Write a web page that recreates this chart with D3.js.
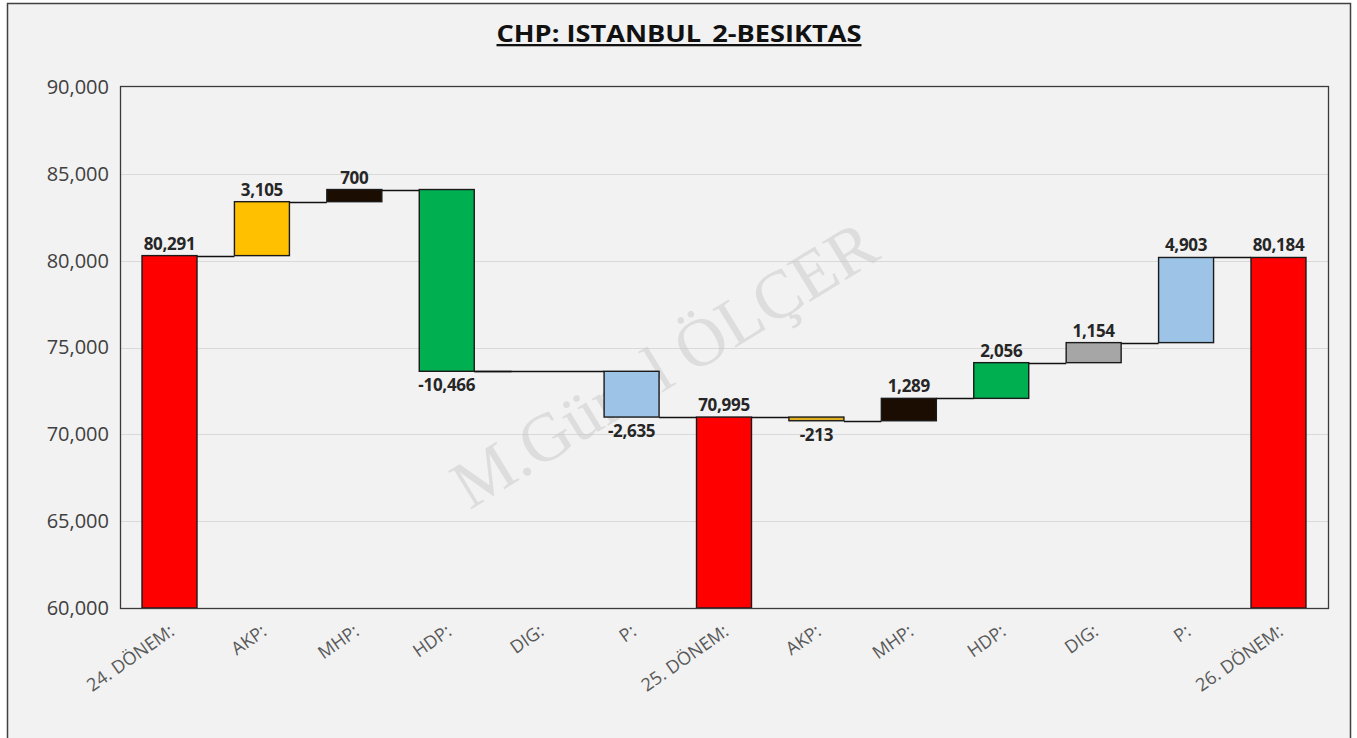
<!DOCTYPE html>
<html>
<head>
<meta charset="utf-8">
<script src="https://cdn.jsdelivr.net/npm/d3@7"></script>
<style>
  body { margin: 0; background: #fff; }
  svg { display: block; }
</style>
</head>
<body>
<div id="chart"></div>
<script>
const categories = ["24. DÖNEM:", "AKP:", "MHP:", "HDP:", "DIG:", "P:", "25. DÖNEM:", "AKP:", "MHP:", "HDP:", "DIG:", "P:", "26. DÖNEM:"];
// kind: total bars start at 0, change bars float
const kinds = ["total", "change", "change", "change", "change", "change", "total", "change", "change", "change", "change", "change", "total"];
const values = [80291, 3105, 700, -10466, 0, -2635, 70995, -213, 1289, 2056, 1154, 4903, 80184];
const colors = ["#ff0000", "#ffc000", "#1c0d02", "#00b050", "#a6a6a6", "#9dc3e6", "#ff0000", "#e0b020", "#1c0d02", "#00b050", "#a6a6a6", "#9dc3e6", "#ff0000"];
const yTicks = [60000, 65000, 70000, 75000, 80000, 85000, 90000];

const width = 1357, height = 738;
const margin = { top: 87, right: 29, bottom: 130, left: 120 };

const fmt = d3.formatLocale({ decimal: ".", thousands: ",", grouping: [3], currency: ["", ""], minus: "-" }).format(",");

// running totals for the floating bars
let running = 0;
const bars = values.map((v, i) => {
    let start, end;
    if (kinds[i] === "total") { start = 0; end = v; running = v; }
    else { start = running; end = running + v; running = end; }
    return { i, name: categories[i], value: v, start, end, kind: kinds[i], color: colors[i] };
});

const svg = d3.select("#chart").append("svg")
    .attr("width", width)
    .attr("height", height);

// frame
svg.append("rect")
    .attr("x", 7.5).attr("y", 3.5)
    .attr("width", 1343).attr("height", 740)
    .attr("fill", "#f2f2f2")
    .attr("stroke", "#404040")
    .attr("stroke-width", 1.5);

const x = d3.scaleBand()
    .domain(d3.range(categories.length))
    .range([123.3, 1324.7])
    .paddingInner(0.405)
    .paddingOuter(0.2025);

const y = d3.scaleLinear()
    .domain([60000, 90000])
    .range([height - margin.bottom, margin.top]);

const plotBottom = y(60000);

// gridlines
svg.append("g")
    .selectAll("line")
    .data(yTicks.slice(1, -1))
    .join("line")
    .attr("x1", margin.left).attr("x2", width - margin.right)
    .attr("y1", d => Math.round(y(d)) + 0.5).attr("y2", d => Math.round(y(d)) + 0.5)
    .attr("stroke", "#d9d9d9");

// watermark
svg.append("text")
    .attr("transform", "translate(676,384) rotate(-31.5)")
    .attr("text-anchor", "middle")
    .attr("font-family", "Liberation Serif, DejaVu Serif, serif")
    .attr("font-size", 68)
    .attr("fill", "#c8c8c8")
    .attr("fill-opacity", 0.5)
    .text("M.Günal ÖLÇER");

// y axis
const yAxis = g => g
    .attr("transform", `translate(${margin.left - 11},0)`)
    .call(d3.axisLeft(y).tickValues(yTicks).tickSize(0).tickPadding(0).tickFormat(fmt))
    .call(g => g.select(".domain").remove())
    .call(g => g.selectAll("text")
        .attr("font-family", "Open Sans, Noto Sans, sans-serif")
        .attr("font-size", 20)
        .attr("fill", "#404040"));
svg.append("g").call(yAxis);

// connectors (run through the band of a zero change too)
svg.append("g")
    .selectAll("line")
    .data(bars.slice(0, -1))
    .join("line")
    .attr("x1", d => d.value === 0 ? x(d.i - 1) + x.bandwidth() : x(d.i) + x.bandwidth())
    .attr("x2", d => x(d.i + 1))
    .attr("y1", d => Math.round(y(d.end)) + 0.5)
    .attr("y2", d => Math.round(y(d.end)) + 0.5)
    .attr("stroke", "#111")
    .attr("stroke-width", 1.4);

// bars
const clampY = v => y(Math.max(v, 60000));
svg.append("g")
    .selectAll("rect")
    .data(bars.filter(d => d.value !== 0))
    .join("rect")
    .attr("x", d => x(d.i))
    .attr("width", x.bandwidth())
    .attr("y", d => clampY(Math.max(d.start, d.end)))
    .attr("height", d => clampY(Math.min(d.start, d.end)) - clampY(Math.max(d.start, d.end)))
    .attr("fill", d => d.color)
    .attr("stroke", "#1a1a1a")
    .attr("stroke-width", 1.4);

// plot border
svg.append("rect")
    .attr("x", margin.left + 0.5).attr("y", margin.top - 0.5)
    .attr("width", width - margin.left - margin.right)
    .attr("height", plotBottom - margin.top + 1)
    .attr("fill", "none")
    .attr("stroke", "#3a3a3a")
    .attr("stroke-width", 1.3);

// data labels
svg.append("g")
    .selectAll("text")
    .data(bars.filter(d => d.value !== 0))
    .join("text")
    .attr("x", d => x(d.i) + x.bandwidth() / 2)
    .attr("y", d => d.value < 0 ? y(d.end) + 20 : y(d.end) - 6)
    .attr("text-anchor", "middle")
    .attr("font-family", "Open Sans, Noto Sans, sans-serif")
    .attr("font-weight", "bold")
    .attr("font-size", 17)
    .attr("letter-spacing", -0.3)
    .attr("fill", "#262626")
    .text(d => fmt(d.value));

// x labels
svg.append("g")
    .selectAll("text")
    .data(bars)
    .join("text")
    .attr("transform", d => `translate(${x(d.i) + x.bandwidth() / 2 + 6},${plotBottom + 26}) rotate(-35)`)
    .attr("text-anchor", "end")
    .attr("font-family", "Open Sans, Noto Sans, sans-serif")
    .attr("font-size", 18)
    .attr("fill", "#595959")
    .text(d => d.name);

// title
svg.append("text")
    .attr("x", 679).attr("y", 42)
    .attr("text-anchor", "middle")
    .attr("font-family", "Open Sans, Noto Sans, sans-serif")
    .attr("font-weight", "bold")
    .attr("font-size", 23)
    .attr("text-decoration", "underline")
    .attr("fill", "#111")
    .attr("textLength", 365)
    .attr("lengthAdjust", "spacingAndGlyphs")
    .text("CHP: ISTANBUL_2-BESIKTAS");
</script>
</body>
</html>
